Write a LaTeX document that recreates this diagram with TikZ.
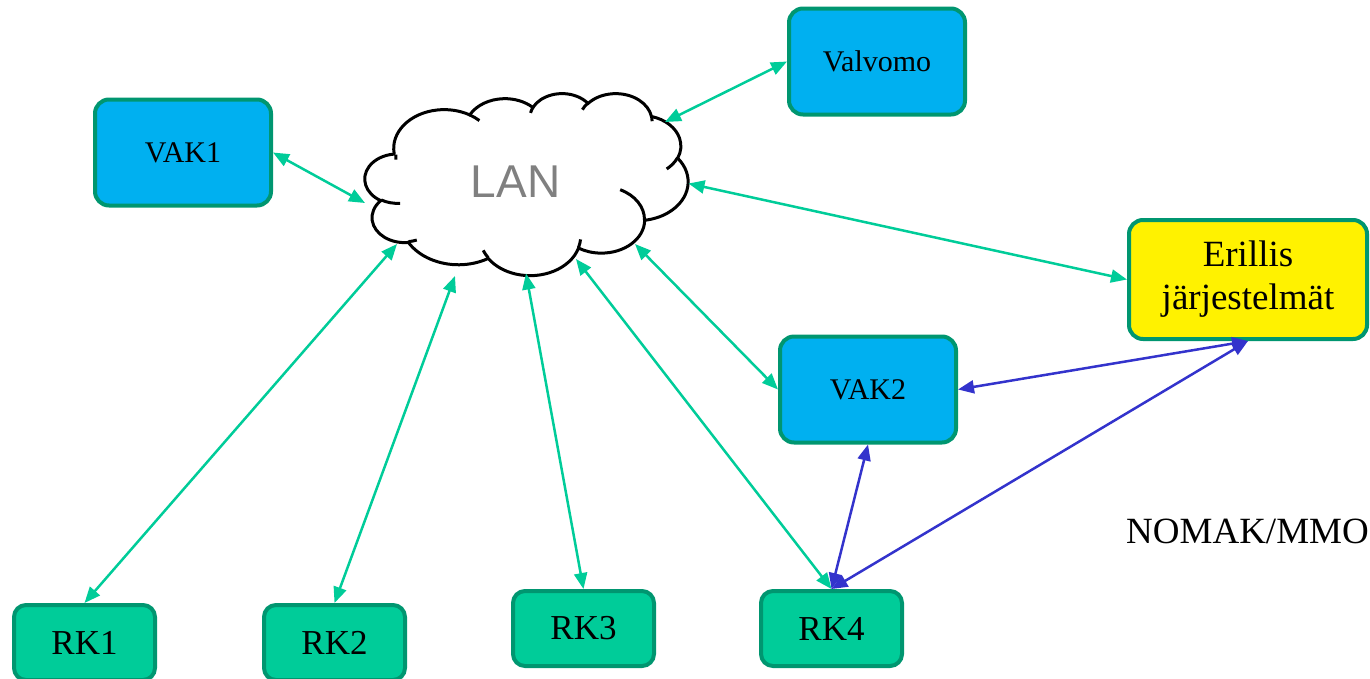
\documentclass[tikz,border=0pt]{standalone}
\usepackage{fontspec}
\setmainfont{Liberation Serif}
\newfontfamily\lanfont{Liberation Sans}
\usetikzlibrary{arrows.meta}
\definecolor{vakblue}{RGB}{0,176,240}
\definecolor{rkgreen}{RGB}{0,204,153}
\definecolor{bordergreen}{RGB}{0,150,112}
\definecolor{linkgreen}{RGB}{0,204,153}
\definecolor{linkblue}{RGB}{51,51,204}
\definecolor{langray}{RGB}{128,128,128}
% arc with OOXML-like visual angles converted to parametric ones
\newcommand\ooset[5]{%
  \pgfmathsetmacro\ooT{atan2((#2)*sin(#4),(#3)*cos(#4))}%
  \pgfmathsetmacro\ooU{atan2((#2)*sin((#4)+(#5)),(#3)*cos((#4)+(#5)))}%
  \pgfmathsetmacro\ooD{\ooU-\ooT}%
  \ifdim\ooD pt<0pt \pgfmathsetmacro\ooD{\ooD+360}\fi
  \expandafter\xdef\csname ooarc#1\endcsname{arc[start angle=\ooT, delta angle=\ooD, x radius=#2, y radius=#3]}%
}
\ooset{A}{67.53}{91.90}{-190.48748}{123.78053}
\ooset{B}{53.33}{72.67}{-144.10238}{89.94523}
\ooset{C}{43.65}{59.45}{-145.80792}{99.72302}
\ooset{D}{48.57}{65.95}{-130.98607}{117.24173}
\ooset{E}{53.33}{72.73}{-78.70888}{109.02692}
\ooset{F}{67.75}{92.20}{-46.26725}{130.26900}
\ooset{G}{57.85}{78.67}{0.62502}{114.03333}
\ooset{H}{67.52}{92.15}{22.45160}{115.17255}
\ooset{I}{77.20}{105.43}{66.24263}{75.71102}
\ooset{J}{43.60}{59.18}{-274.94208}{146.73557}
\ooset{K}{43.45}{59.45}{-246.82850}{152.51885}
\ooset{a}{43.45}{59.45}{86.742}{26.430}
\ooset{b}{43.60}{59.18}{73.611}{11.448}
\ooset{c}{67.52}{92.15}{137.624}{14.076}
\ooset{d}{67.52}{92.15}{6.453}{15.998}
\ooset{e}{57.85}{78.67}{-70.292}{70.917}
\ooset{f}{53.33}{72.73}{30.318}{27.752}
\ooset{g}{48.57}{65.95}{-13.743}{14.859}
\ooset{h}{48.57}{65.95}{-149.181}{18.195}
\ooset{i}{43.65}{59.45}{-163.494}{17.686}
\ooset{j}{67.53}{91.90}{-66.707}{12.319}
\ooset{k}{67.53}{91.90}{175.72}{9.72}
\tikzset{
  box/.style={draw=bordergreen, line width=4pt, rounded corners=14pt, align=center, inner sep=0pt},
  bluebox/.style={box, fill=vakblue, minimum width=176pt, minimum height=106pt, font=\fontsize{30}{36}\selectfont},
  rkbox/.style={box, fill=rkgreen, rounded corners=12pt, minimum width=141pt, minimum height=75pt, font=\fontsize{35}{40}\selectfont},
  yellowbox/.style={box, fill=yellow, minimum width=238pt, minimum height=119pt, font=\fontsize{37}{43}\selectfont},
  glink/.style={draw=linkgreen, line width=2.5pt, {Triangle[length=16pt,width=13pt]}-{Triangle[length=16pt,width=13pt]}},
  blink/.style={draw=linkblue, line width=2.5pt, {Triangle[length=16pt,width=13pt]}-{Triangle[length=16pt,width=13pt]}},
  cloudline/.style={draw=black, line width=3pt}
}
\begin{document}
\begin{tikzpicture}[x=1pt,y=-1pt]
\useasboundingbox (0,0) rectangle (1370,678);
% cloud
\begin{scope}[shift={(365,93)}, x=0.747685pt, y=-0.421296pt]
  \draw[cloudline, fill=white] (39.00,143.70) \ooarcA \ooarcB \ooarcC \ooarcD \ooarcE \ooarcF \ooarcG \ooarcH \ooarcI \ooarcJ \ooarcK -- cycle;
  \draw[cloudline] (46.93,261.77) \ooarca (69.28,348.99) \ooarcb (164.78,390.90) \ooarcc (288.27,347.51) \ooarcd (341.29,229.54) \ooarce (417.98,153.54) \ooarcf (383.24,54.26) \ooarcg (290.78,39.52) \ooarch (221.41,47.20) \ooarci (140.00,51.92) \ooarcj (41.27,157.89) \ooarck;
\end{scope}
\node[inner sep=0pt, text=langray, font=\lanfont\fontsize{46}{50}\selectfont] (lan) at (515.5,181.5) {LAN};
% boxes
\node[bluebox] (valvomo) at (877,61.5) {Valvomo};
\node[bluebox] (vak1) at (183,152.5) {VAK1};
\node[bluebox] (vak2) at (868,389.5) {VAK2};
\node[yellowbox] (eri) at (1248,279.5) {Erillis\\järjestelmät};
\node[rkbox] (rk1) at (84.5,642.5) {RK1};
\node[rkbox] (rk2) at (334.5,642.5) {RK2};
\node[rkbox] (rk3) at (583.5,628.5) {RK3};
\node[rkbox] (rk4) at (831.5,628.5) {RK4};
\node[anchor=base west, inner sep=0pt, font=\fontsize{37}{43}\selectfont] (nomak) at (1126,543) {NOMAK/MMO};
% green links
\draw[glink] ([shift={(149.5,-59.5)}]lan.center) -- (valvomo.west);
\draw[glink] ([shift={(-150.5,21.5)}]lan.center) -- (vak1.east);
\draw[glink] ([shift={(173,2)}]lan.center) -- (eri.west);
\draw[glink] ([shift={(-118.5,62.5)}]lan.center) -- (rk1.north);
\draw[glink] ([shift={(-60.5,94.5)}]lan.center) -- (rk2.north);
\draw[glink] ([shift={(10.5,92)}]lan.center) -- (rk3.north);
\draw[glink] ([shift={(60.5,77.5)}]lan.center) -- (rk4.north);
\draw[glink] ([shift={(119.5,62.5)}]lan.center) -- (vak2.west);
% blue links
\draw[blink] (vak2.east) -- (eri.south);
\draw[blink] (rk4.north) -- (vak2.south);
\draw[blink] (rk4.north) -- (eri.south);
\end{tikzpicture}
\end{document}
